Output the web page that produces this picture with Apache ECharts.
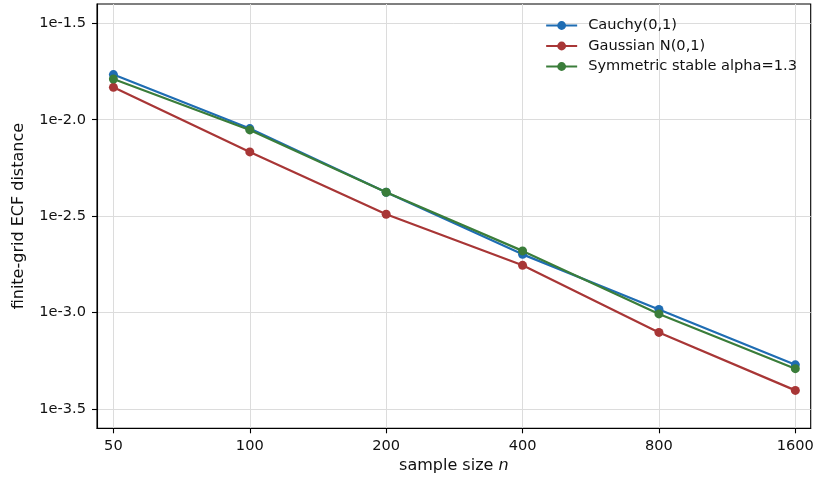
<!DOCTYPE html>
<html>
<head>
<meta charset="utf-8">
<script src="https://cdn.jsdelivr.net/npm/echarts@6/dist/echarts.min.js"></script>
<style>
html,body{margin:0;padding:0;background:#fff;}
#chart{width:817px;height:480px;}
</style>
</head>
<body>
<div id="chart"></div>
<script>
// ---- data ----
const sampleSizes = [50, 100, 200, 400, 800, 1600];
const cauchy   = [0.01714, 0.008995, 0.004207, 0.002004, 0.001038, 0.000536];
const gaussian = [0.01472, 0.006808, 0.003236, 0.001758, 0.000789, 0.000395];
const stable   = [0.01626, 0.008851, 0.004207, 0.002089, 0.000984, 0.000512];
const seriesNames = ['Cauchy(0,1)', 'Gaussian N(0,1)', 'Symmetric stable alpha=1.3'];
const yTickExponents = [-3.5, -3.0, -2.5, -2.0, -1.5];
const xTicks = sampleSizes;

const colors = ['#1f6db3', '#a83636', '#3a7d3a'];
const FONT = 'DejaVu Sans';
const TXT = '#111';
const yTicks = yTickExponents.map(e => Math.pow(10, e));

function pairs(vals) { return sampleSizes.map((n, i) => [n, vals[i]]); }

const chart = echarts.init(document.getElementById('chart'), null, {renderer: 'canvas'});
const allSeries = [cauchy, gaussian, stable].map((vals, i) => ({
  name: seriesNames[i],
  type: 'line',
  data: pairs(vals),
  symbol: 'circle',
  symbolSize: 9,
  showSymbol: true,
  lineStyle: {width: 2.2, color: colors[i]},
  itemStyle: {color: colors[i]},
  z: 3 + i,
  animation: false
}));

chart.setOption({
  animation: false,
  textStyle: {fontFamily: FONT},
  grid: {
    left: 97, right: 6.3, top: 4, bottom: 51.7,
    show: true, borderColor: '#000', borderWidth: 1.1,
    containLabel: false, outerBoundsMode: 'none'
  },
  legend: {
    orient: 'vertical',
    right: 15, top: 13,
    itemWidth: 31, itemHeight: 11,
    itemGap: 5.5,
    textStyle: {fontFamily: FONT, fontSize: 14.6, color: TXT, padding: [0, 0, 0, 6]},
    data: seriesNames
  },
  xAxis: {
    type: 'log', logBase: 2,
    min: 46, max: 1730,
    name: '{a|sample size }{b|n}',
    nameLocation: 'middle', nameGap: 30,
    nameTextStyle: {
      rich: {
        a: {fontFamily: FONT, fontSize: 16, color: TXT},
        b: {fontFamily: FONT, fontSize: 16, color: TXT, fontStyle: 'italic'}
      }
    },
    axisLine: {show: true, lineStyle: {color: '#000', width: 1.1}},
    axisTick: {show: true, length: 5, customValues: xTicks, lineStyle: {color: '#000', width: 1.1}},
    axisLabel: {
      customValues: xTicks, margin: 10,
      fontFamily: FONT, fontSize: 14.6, color: TXT,
      formatter: v => String(Math.round(v))
    },
    splitLine: {show: true, lineStyle: {color: '#dcdcdc', width: 1}},
    minorTick: {show: false}, minorSplitLine: {show: false}
  },
  yAxis: {
    type: 'log', logBase: 10,
    min: Math.pow(10, -3.6), max: Math.pow(10, -1.4),
    name: 'finite-grid ECF distance',
    nameLocation: 'middle', nameGap: 70, nameRotate: 90,
    nameTextStyle: {fontFamily: FONT, fontSize: 16, color: TXT},
    axisLine: {show: true, lineStyle: {color: '#000', width: 1.1}},
    axisTick: {show: true, length: 5, customValues: yTicks, lineStyle: {color: '#000', width: 1.1}},
    axisLabel: {
      customValues: yTicks, margin: 11,
      fontFamily: FONT, fontSize: 14.6, color: TXT,
      formatter: v => '1e' + (Math.log10(v)).toFixed(1)
    },
    splitLine: {show: true, lineStyle: {color: '#dcdcdc', width: 1}},
    minorTick: {show: false}, minorSplitLine: {show: false}
  },
  series: allSeries
});
</script>
</body>
</html>
